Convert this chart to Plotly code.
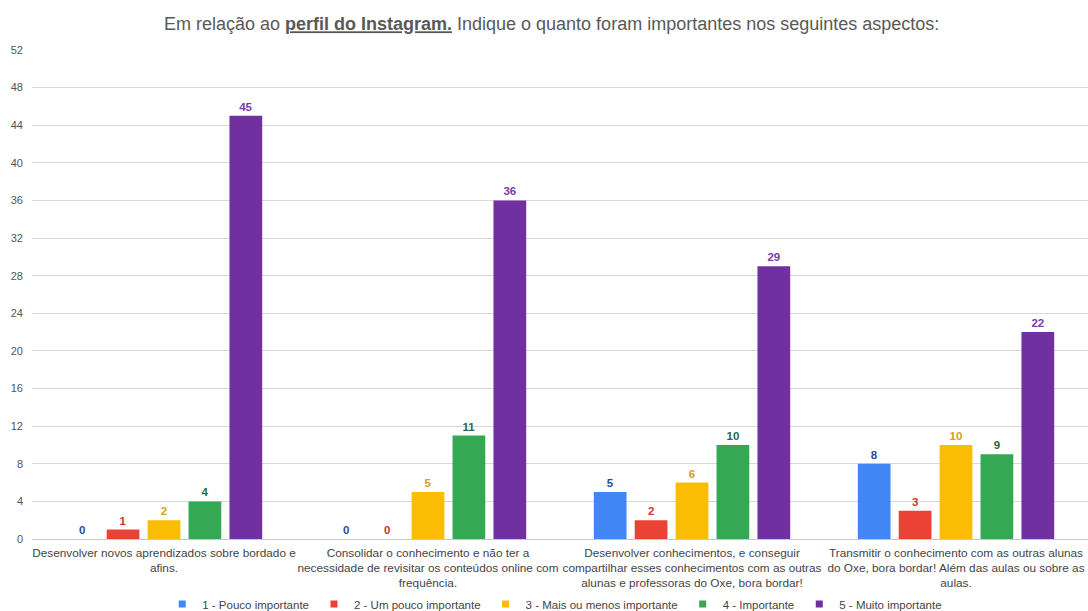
import plotly.graph_objects as go

categories = [
    "Desenvolver novos aprendizados sobre bordado e<br>afins.",
    "Consolidar o conhecimento e não ter a<br>necessidade de revisitar os conteúdos online com<br>frequência.",
    "Desenvolver conhecimentos, e conseguir<br>compartilhar esses conhecimentos com as outras<br>alunas e professoras do Oxe, bora bordar!",
    "Transmitir o conhecimento com as outras alunas<br>do Oxe, bora bordar! Além das aulas ou sobre as<br>aulas.",
]

series_names = [
    "1 - Pouco importante",
    "2 - Um pouco importante",
    "3 - Mais ou menos importante",
    "4 - Importante",
    "5 - Muito importante",
]

pouco = [0, 0, 5, 8]
um_pouco = [1, 0, 2, 3]
mais_ou_menos = [2, 5, 6, 10]
importante = [4, 11, 10, 9]
muito = [45, 36, 29, 22]

series_values = [pouco, um_pouco, mais_ou_menos, importante, muito]

bar_colors = ["#4285F4", "#EA4335", "#FBBC04", "#34A853", "#7030A0"]
label_colors = ["#1F4E9F", "#D0352C", "#D4A11A", "#2A6B3C", "#7A3AAE"]

y_ticks = list(range(0, 53, 4))

FONT = "Liberation Sans, Arial, sans-serif"

fig = go.Figure()

for name, vals, bc, lc in zip(series_names, series_values, bar_colors, label_colors):
    fig.add_trace(go.Bar(
        x=categories,
        y=vals,
        name=name,
        marker=dict(color=bc, line=dict(width=0)),
        texttemplate="<b>%{y}</b>",
        textposition="outside",
        textfont=dict(color=lc, size=11.5, family=FONT),
        cliponaxis=False,
        showlegend=False,
    ))

# compact square swatches for the legend
for name, bc in zip(series_names, bar_colors):
    fig.add_trace(go.Scatter(
        x=[None], y=[None], mode="markers", name=name,
        marker=dict(symbol="square", size=7, color=bc),
        showlegend=True,
    ))

fig.update_layout(
    width=1088,
    height=611,
    margin=dict(l=32, r=0, t=50, b=72, autoexpand=False),
    paper_bgcolor="white",
    plot_bgcolor="white",
    barmode="group",
    bargap=0.225,
    bargroupgap=0.2,
    font=dict(family=FONT, size=11, color="#444444"),
    title=dict(
        text="Em relação ao <b><u>perfil do Instagram.</u></b> Indique o quanto foram importantes nos seguintes aspectos:",
        x=0.507, xanchor="center", y=1 - 24 / 611, yanchor="middle",
        font=dict(family=FONT, size=18, color="#595959"),
    ),
    legend=dict(
        orientation="h",
        x=0.495, xanchor="center",
        yref="container", y=1 - 604 / 611, yanchor="middle",
        font=dict(family=FONT, size=11.5, color="#444444"),
        itemwidth=30,
        tracegroupgap=0,
    ),
    xaxis=dict(
        showgrid=False,
        showline=False,
        ticks="",
        tickangle=0,
        tickfont=dict(family=FONT, size=11.8, color="#444444"),
        ticklabelstandoff=5,
    ),
    yaxis=dict(
        range=[0, 52],
        tickvals=y_ticks,
        showgrid=True,
        gridcolor="#D9D9D9",
        gridwidth=1,
        zeroline=True,
        zerolinecolor="#C8C8C8",
        zerolinewidth=1,
        showline=False,
        ticks="",
        ticklabelstandoff=8,
        tickfont=dict(family=FONT, size=11, color="#555555"),
    ),
)

fig.write_html("out.html")
